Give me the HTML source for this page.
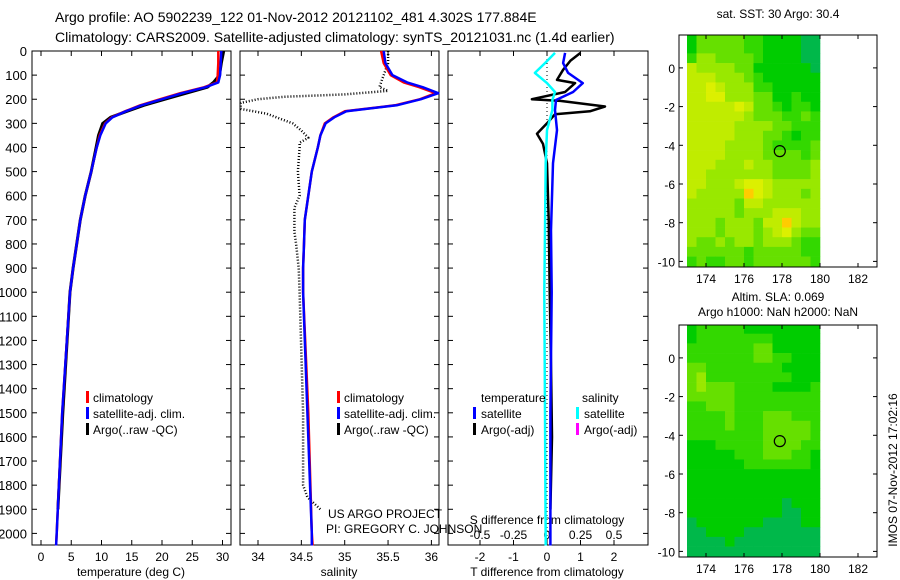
<!DOCTYPE html>
<html><head><meta charset="utf-8">
<style>
body{margin:0;background:#fff;}
svg{display:block;font-family:"Liberation Sans",sans-serif;}
</style></head>
<body>
<svg id="fig" width="900" height="580" viewBox="0 0 900 580" xmlns="http://www.w3.org/2000/svg">
<text x="55" y="22" font-size="14">Argo profile: AO 5902239_122 01-Nov-2012 20121102_481 4.302S 177.884E</text>
<text x="55" y="42" font-size="14">Climatology: CARS2009. Satellite-adjusted climatology: synTS_20121031.nc (1.4d earlier)</text>
<text x="778" y="18" font-size="12" text-anchor="middle">sat. SST: 30 Argo: 30.4</text>
<text x="778" y="301" font-size="12" text-anchor="middle">Altim. SLA: 0.069</text>
<text x="778" y="316" font-size="12" text-anchor="middle">Argo h1000: NaN h2000: NaN</text>
<text transform="translate(897,470) rotate(-90)" font-size="12" text-anchor="middle">IMOS 07-Nov-2012 17:02:16</text>
<g id="g"></g>
</svg>
<script>
// ---- data ----
const depthTicks=[0,100,200,300,400,500,600,700,800,900,1000,1100,1200,1300,1400,1500,1600,1700,1800,1900,2000];
const tTicks=[0,5,10,15,20,25,30];
const sTicks=[34,34.5,35,35.5,36];
const tdTicks=[-2,-1,0,1,2];
const sdTicks=[-0.5,-0.25,0,0.25,0.5];
const sdTickLabels=["-0.5","-0.25","0","0.25","0.5"];
const lonTicks=[174,176,178,180,182];
const latTicks=[0,-2,-4,-6,-8,-10];

const climDepth=[0,50,100,130,150,175,200,225,250,275,300,350,400,500,600,700,800,900,1000,1500,2000,2050];
const climTemp=[29.3,29.3,29.2,29.1,27,23,19.7,16.4,13.9,11.7,10.6,9.7,9.2,8.3,7.3,6.5,5.9,5.3,4.8,3.5,2.6,2.5];
const satTemp=[29.8,29.7,29.6,29.3,27.2,23.3,20,16.6,14,11.8,10.7,9.8,9.2,8.3,7.3,6.5,5.9,5.3,4.8,3.5,2.6,2.5];
const argoDepth=[0,50,100,130,150,175,200,225,250,275,300,350,400,500,600,700,800,900,1000,1500,1900];
const argoTemp=[30.2,29.8,29.5,28.5,27.5,24,20.5,17,14.2,11.5,10.2,9.5,9.1,8.3,7.3,6.5,5.9,5.3,4.8,3.6,2.8];

const climSal=[35.42,35.45,35.53,35.68,35.86,36.05,35.87,35.58,35.0,34.87,34.77,34.72,34.69,34.62,34.58,34.54,34.53,34.52,34.52,34.58,34.62,34.63];
const satSal=[35.45,35.47,35.55,35.72,35.9,36.08,35.88,35.6,35.02,34.88,34.78,34.72,34.69,34.62,34.58,34.54,34.53,34.52,34.52,34.57,34.62,34.62];
const argoSalDepth=[0,50,100,150,165,180,190,200,215,240,260,300,330,360,380,400,500,600,650,750,800,900,1000,1500,1800,1850,1900];
const argoSal=[35.5,35.5,35.45,35.4,35.5,35.0,34.3,34.0,33.8,33.8,34.1,34.4,34.5,34.58,34.48,34.48,34.46,34.48,34.42,34.42,34.44,34.47,34.48,34.52,34.52,34.57,34.72];

const diffDepth=[8,50,91,133,170,203,245,328,465,743,1000,1500,2050];
const tdSat=[0.54,0.48,0.63,1.07,0.78,0.27,0.24,0.3,0.18,0.12,0.14,0.1,0.1];
const sdSat=[0.06,-0.015,-0.09,0.0,0.06,0.04,0.04,0.0,-0.01,-0.015,-0.02,-0.015,-0.01];
const tdArgoDepth=[8,40,78,120,133,170,200,207,230,250,262,295,343,385,465,700,1000,1300,1600,1900];
const tdArgo=[1.0,0.7,0.48,0.3,0.84,0.54,-0.45,0.4,1.73,1.28,0.24,0.03,-0.3,-0.12,0.0,0.05,0.08,0.12,0.15,0.1];

const gridLon0=173,gridLat0=1.75,gridStep=0.5;
const sstGrid=["13333322111100","13333322111100","24433332111100","54444331111110","55544432111111","55654442211111","55664443311211","55555653321221","55555543332232","55555444433222","55555444332122","55554444322223","55554444333323","55544454433334","55444444433334","55444566544444","54444476544434","44444355444444","44444344455544","44434443557544","44434443456433","43343443444322","33333323333322","23223323333332","23223323333332"];
const slaGrid=["12222211111111","12222222211111","22222223311111","22222223322111","33222222221111","34222222222111","34333222211112","33333222222222","22333222222222","22223222333222","22223222333332","22222222333332","11122222333322","11111222333221","11111122222221","11111111111111","11111111111111","11111111111111","11111111110111","11111111110011","01111111000011","00111100000000","00001000000000","00000000000000","00000000000000"];
const palette=["#00b84a","#00cc00","#33d800","#66e000","#99e800","#c0ec00","#dcf000","#ffcc00","#ff9900"];
const argoLon=[177.884],argoLat=[-4.302];

// ---- helpers ----
const NS="http://www.w3.org/2000/svg";
const G=document.getElementById('g');
function mk(tag,attrs,parent){const e=document.createElementNS(NS,tag);for(const k in attrs)e.setAttribute(k,attrs[k]);(parent||G).appendChild(e);return e;}
const yD=d=>51+d*0.2412;
const PY0=51,PY1=545;
function frame(x0,x1,name){
 const r=mk('rect',{x:x0,y:PY0,width:x1-x0,height:PY1-PY0,fill:'none',stroke:'#000','stroke-width':1});
 
 
 depthTicks.forEach(d=>{const y=yD(d);mk('line',{x1:x0,x2:x0+5,y1:y,y2:y,stroke:'#000'});mk('line',{x1:x1-5,x2:x1,y1:y,y2:y,stroke:'#000'});});
}
function poly(xs,ys,color,w,name,dash){
 const pts=xs.map((x,i)=>x.toFixed(1)+','+ys[i].toFixed(1)).join(' ');
 const p=mk('polyline',{points:pts,fill:'none',stroke:color,'stroke-width':w,'stroke-linejoin':'round'});
 if(dash)p.setAttribute('stroke-dasharray',dash);
 
 
}
function txt(x,y,s,anchor,size,name){const t=mk('text',{x:x,y:y,'font-size':size||12,'text-anchor':anchor||'start'});t.textContent=s;
 
 return t;}

// ---- panel 1: temperature ----
const xT=t=>41+t*6.05;
frame(32,231,'temperature-panel');
depthTicks.forEach(d=>txt(27,yD(d)+5,String(d),'end',13,'depth-tick-label'));
tTicks.forEach(t=>{mk('line',{x1:xT(t),x2:xT(t),y1:PY1,y2:PY1-5,stroke:'#000'});mk('line',{x1:xT(t),x2:xT(t),y1:PY0,y2:PY0+5,stroke:'#000'});txt(xT(t),561,String(t),'middle',12,'temperature-tick-label');});
txt(131,576,'temperature (deg C)','middle',12,'x-axis-title-temperature');
poly(argoTemp.map(xT),argoDepth.map(yD),'#000',3,'argo-temperature-line');
poly(climTemp.map(xT),climDepth.map(yD),'#f00',2.5,'climatology-temperature-line');
poly(satTemp.map(xT),climDepth.map(yD),'#00f',2.5,'satellite-temperature-line');
function legend3(x,name){
 [['#f00','climatology'],['#00f','satellite-adj. clim.'],['#000','Argo(..raw -QC)']].forEach((e,i)=>{
  const y=397+i*16;const r=mk('rect',{x:x,y:y-6,width:3,height:12,fill:e[0]});
  
  txt(x+7,y+5,e[1],'start',12,name+'-entry');});
}
legend3(86,'temperature-legend');

// ---- panel 2: salinity ----
const xS=s=>258+(s-34)*86.7;
frame(240,439,'salinity-panel');
sTicks.forEach(s=>{mk('line',{x1:xS(s),x2:xS(s),y1:PY1,y2:PY1-5,stroke:'#000'});mk('line',{x1:xS(s),x2:xS(s),y1:PY0,y2:PY0+5,stroke:'#000'});txt(xS(s),561,String(s),'middle',12,'salinity-tick-label');});
txt(339,576,'salinity','middle',12,'x-axis-title-salinity');
poly(argoSal.map(xS),argoSalDepth.map(yD),'#000',2.5,'argo-salinity-line','1 2');
poly(climSal.map(xS),climDepth.map(yD),'#f00',2.5,'climatology-salinity-line');
poly(satSal.map(xS),climDepth.map(yD),'#00f',2.5,'satellite-salinity-line');
legend3(337,'salinity-legend');
txt(328,518,'US ARGO PROJECT','start',12,'credit-project');
txt(326,533,'PI: GREGORY C. JOHNSON','start',12,'credit-pi');

// ---- panel 3: differences ----
const xTD=v=>547+v*33.5, xSD=v=>547+v*134;
frame(448,648,'difference-panel');
mk('line',{x1:547,x2:547,y1:PY0,y2:PY1,stroke:'#000','stroke-dasharray':'1 3'});
tdTicks.forEach(v=>{mk('line',{x1:xTD(v),x2:xTD(v),y1:PY1,y2:PY1-5,stroke:'#000'});mk('line',{x1:xTD(v),x2:xTD(v),y1:PY0,y2:PY0+5,stroke:'#000'});txt(xTD(v),561,String(v),'middle',12,'t-diff-tick-label');});
sdTicks.forEach((v,i)=>txt(xSD(v),539,sdTickLabels[i],'middle',12,'s-diff-tick-label'));
txt(547,524,'S difference from climatology','middle',12,'s-diff-axis-title');
txt(547,576,'T difference from climatology','middle',12,'x-axis-title-t-diff');
poly(tdArgo.map(xTD),tdArgoDepth.map(yD),'#000',2.5,'argo-t-diff-line');
poly(tdSat.map(xTD),diffDepth.map(yD),'#00f',2.5,'satellite-t-diff-line');
poly(sdSat.map(xSD),diffDepth.map(yD),'#0ff',2.5,'satellite-s-diff-line');
txt(481,402,'temperature','start',12,'diff-legend-temperature-heading');
txt(582,402,'salinity','start',12,'diff-legend-salinity-heading');
[['#00f',473,'satellite',413],['#000',473,'Argo(-adj)',429],['#0ff',576,'satellite',413],['#f0f',576,'Argo(-adj)',429]].forEach(e=>{
 const r=mk('rect',{x:e[1],y:e[3]-6,width:3,height:12,fill:e[0]});
 
 txt(e[1]+8,e[3]+5,e[2],'start',12,'diff-legend-entry');});

// ---- maps ----
function map(y0,y1,grid,name){
 const x0=679,x1=877;
 const xL=l=>706+(l-174)*19.0;
 const yLat=la=>y0+(1.7-la)*19.35;
 const g=mk('g',{});
 
 
 grid.forEach((row,ri)=>{for(let ci=0;ci<row.length;ci++){
   const lon=gridLon0+ci*gridStep, lat=gridLat0-ri*gridStep;
   const xa=Math.max(x0,xL(lon)),xb=xL(lon+gridStep), ya=Math.max(y0,yLat(lat)),yb=Math.min(y1,yLat(lat-gridStep));
   if(yb<=ya)continue;
   mk('rect',{x:xa,y:ya,width:xb-xa+0.3,height:yb-ya+0.3,fill:palette[+row[ci]]},g);
 }});
 mk('rect',{x:x0,y:y0,width:x1-x0,height:y1-y0,fill:'none',stroke:'#000'},g);
 lonTicks.forEach(l=>{const x=xL(l);mk('line',{x1:x,x2:x,y1:y1,y2:y1-4,stroke:'#000'},g);mk('line',{x1:x,x2:x,y1:y0,y2:y0+4,stroke:'#000'},g);txt(x,y1+16,String(l),'middle',12,'longitude-tick-label');});
 latTicks.forEach(l=>{const y=yLat(l);mk('line',{x1:x0,x2:x0+4,y1:y,y2:y,stroke:'#000'},g);mk('line',{x1:x1-4,x2:x1,y1:y,y2:y,stroke:'#000'},g);txt(675,y+5,String(l),'end',12,'latitude-tick-label');});
 argoLon.forEach((lo,i)=>{const c=mk('circle',{cx:xL(lo),cy:yLat(argoLat[i]),r:5.5,fill:'none',stroke:'#000','stroke-width':1.2},g);
  });
}
map(35,267,sstGrid,'sst-map');
map(325,557,slaGrid,'sla-map');
</script>
</body></html>
